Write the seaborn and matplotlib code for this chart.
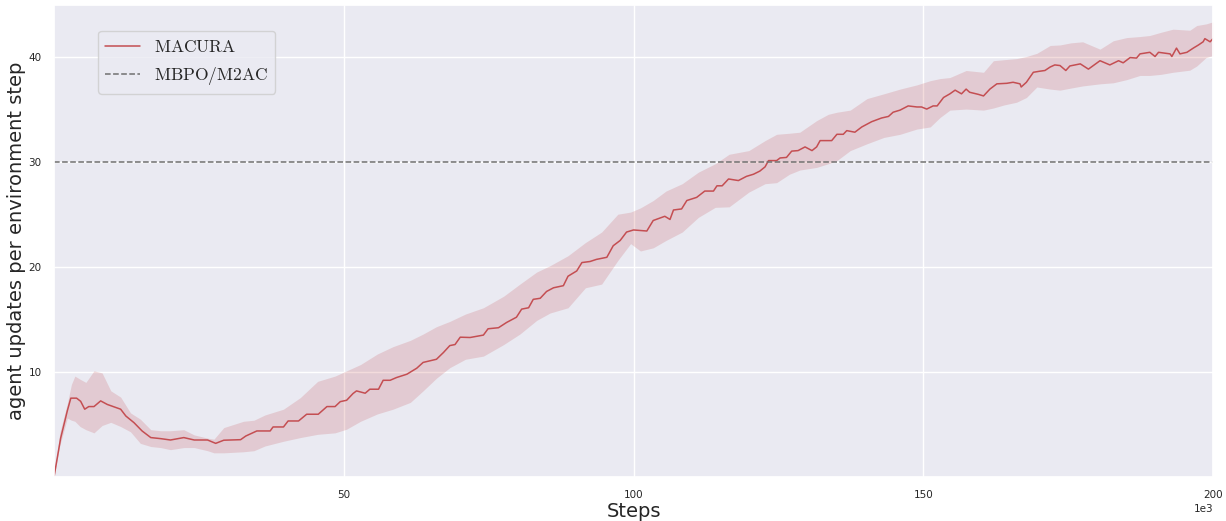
import numpy as np
import pandas as pd
import matplotlib
matplotlib.use("Agg")
import matplotlib.pyplot as plt
import seaborn as sns
from matplotlib.ticker import ScalarFormatter

# mean curve (steps in thousands, updates per env step)
steps_k = [0, 1.15, 2.3, 2.9, 3.9, 4.6, 5.3, 6.0, 6.9, 8.05, 9.2, 10.35, 11.5, 12.4, 13.8,
           15.2, 16.7, 18.4, 20.1, 22.4, 24.2, 26.5, 27.9, 29.3, 32.2, 33.1, 35.0, 37.3,
           37.8, 39.6, 40.4, 42.2, 43.6, 45.6, 47.1, 48.5, 49.4, 50.5, 51.6, 52.2, 53.7,
           54.5, 56.0, 56.8, 58.0, 59.1, 60.9, 62.6, 63.7, 66.0, 67.2, 68.3, 69.2, 70.1,
           71.8, 74.1, 74.9, 76.7, 78.1, 79.8, 80.7, 81.9, 82.7, 83.9, 85.0, 86.2, 87.9,
           88.7, 90.2, 91.1, 92.5, 93.6, 95.4, 96.5, 97.7, 98.8, 100.0, 102.3, 103.4,
           105.4, 106.3, 106.9, 108.3, 109.2, 110.9, 112.3, 113.8, 114.4, 115.3, 116.4,
           118.1, 119.5, 120.7, 121.8, 122.7, 123.3, 124.7, 125.3, 126.4, 127.3, 128.4,
           129.6, 130.8, 131.6, 132.2, 134.2, 135.1, 136.2, 136.8, 138.2, 139.4, 141.1,
           142.8, 144.0, 144.8, 146.0, 147.4, 148.9, 149.7, 150.6, 151.7, 152.4, 153.5,
           154.6, 155.5, 156.6, 157.4, 158.0, 159.5, 160.4, 161.5, 162.7, 164.4, 165.5,
           166.7, 166.9, 167.8, 169.0, 170.1, 171.0, 171.9, 172.7, 173.6, 174.6, 175.3,
           177.1, 178.5, 180.5, 182.2, 183.7, 184.5, 185.7, 186.8, 187.4, 189.1, 190.0,
           190.6, 192.6, 192.9, 193.7, 194.3, 195.5, 196.6, 197.5, 198.3, 198.6, 199.5, 200]
macura = [0, 3.7, 6.3, 7.5, 7.5, 7.2, 6.45, 6.7, 6.7, 7.24, 6.9, 6.67, 6.45, 5.8, 5.17,
          4.38, 3.75, 3.65, 3.52, 3.75, 3.52, 3.52, 3.2, 3.5, 3.55, 3.9, 4.38, 4.38,
          4.76, 4.76, 5.33, 5.33, 5.97, 5.97, 6.7, 6.7, 7.17, 7.3, 7.94, 8.19, 7.97,
          8.35, 8.35, 9.2, 9.2, 9.46, 9.78, 10.35, 10.9, 11.2, 11.84, 12.5, 12.6, 13.3,
          13.27, 13.5, 14.1, 14.2, 14.7, 15.2, 15.97, 16.1, 16.9, 17.0, 17.65, 18.0, 18.2,
          19.1, 19.6, 20.4, 20.5, 20.7, 20.9, 22.0, 22.5, 23.3, 23.5, 23.4, 24.4,
          24.8, 24.5, 25.4, 25.5, 26.3, 26.6, 27.2, 27.2, 27.7, 27.7, 28.35,
          28.2, 28.6, 28.8, 29.1, 29.5, 30.1, 30.1, 30.35, 30.4, 31.0, 31.05,
          31.4, 31.05, 31.4, 32.0, 32.0, 32.6, 32.6, 32.95, 32.8, 33.3, 33.8,
          34.15, 34.3, 34.7, 34.9, 35.3, 35.2, 35.2, 35.0, 35.3, 35.3, 36.1,
          36.45, 36.8, 36.45, 36.9, 36.6, 36.4, 36.25, 36.9, 37.4, 37.45, 37.55,
          37.4, 37.1, 37.55, 38.5, 38.6, 38.67, 39.0, 39.2, 39.14, 38.67, 39.1,
          39.3, 38.8, 39.6, 39.2, 39.6, 39.4, 39.9, 39.85, 40.25, 40.4, 40.0,
          40.4, 40.25, 40.0, 40.8, 40.25, 40.4, 40.8, 41.1, 41.4, 41.7, 41.4, 41.7]

# spread band around the mean
band_k = [0, 1, 2.3, 3, 3.6, 4.5, 5.5, 6.9, 8.3, 9.8, 11.5, 13.2, 14.9, 16.7, 18.4, 20.1,
          22.4, 24.2, 26.5, 27.6, 29.3, 31, 32.7, 34.5, 36.4, 39.6, 42.5, 45.5, 48.5,
          50.5, 52.9, 55.8, 58.5, 61.5, 63.7, 66, 68.3, 71, 74.1, 77.6, 80.4, 83.3, 85.6,
          88.7, 91.7, 94.5, 97.3, 99.5, 101.2, 103.4, 105.6, 108.4, 111.2, 114.1, 116.5,
          119.9, 122.7, 124.7, 126.9, 128.7, 131.6, 133.6, 135.1, 137.4, 140.3, 143.2,
          146, 148.9, 151.2, 152.9, 154.6, 157.4, 160.4, 162.1, 164, 166.1, 167.8, 169.6,
          171.9, 173.6, 175.5, 177.5, 180.5, 182.8, 185.1, 187.4, 189.1, 191, 193.1, 196,
          197.2, 198.8, 200]
band_lo = [0, 3.0, 5.6, 5.4, 5.3, 4.8, 4.5, 4.2, 4.9, 5.2, 4.8, 4.3, 3.2, 2.9, 2.8, 2.6,
           2.8, 2.8, 2.5, 2.3, 2.3, 2.35, 2.4, 2.5, 2.95, 3.4, 3.75, 4.06, 4.2,
           4.55, 5.3, 6.0, 6.45, 7.1, 8.2, 9.4, 10.4, 11.2, 11.5, 12.6, 13.6, 14.9, 15.6,
           16.1, 18.0, 18.35, 20.6, 22.2, 21.5, 21.8, 22.5, 23.3, 24.7, 25.65, 25.7,
           27.1, 27.9, 28.0, 28.8, 29.2, 29.45, 29.8, 30.1, 31.05, 31.7, 32.3,
           32.6, 33.1, 33.3, 34.2, 34.9, 35.0, 34.9, 35.1, 35.4, 35.65, 36.1, 37.1,
           36.9, 36.8, 37.0, 37.2, 37.4, 37.5, 37.8, 38.2, 38.2, 38.3, 38.5, 38.7,
           39.1, 39.9, 40.1]
band_hi = [0, 4.2, 7.0, 8.8, 9.6, 9.3, 9.0, 10.1, 9.9, 8.2, 7.6, 6.1, 5.5, 4.5, 4.4, 4.4,
           4.5, 4.0, 3.7, 3.6, 4.7, 5.0, 5.3, 5.4, 5.9, 6.45, 7.55, 9.1, 9.6,
           10.1, 10.7, 11.7, 12.4, 13.0, 13.6, 14.3, 14.8, 15.5, 16.1, 17.2, 18.35, 19.5, 20.1,
           21.05, 22.3, 23.3, 25.0, 25.2, 25.6, 26.3, 27.2, 27.9, 29.0, 29.8, 30.7,
           31.05, 32.0, 32.6, 32.7, 32.8, 33.9, 34.5, 34.7, 34.9, 36.0, 36.45,
           36.9, 37.3, 37.7, 37.9, 38.0, 38.67, 38.5, 39.6, 39.7, 39.8, 40.0, 40.3,
           41.05, 41.1, 41.3, 41.4, 40.7, 41.5, 41.8, 41.9, 42.0, 42.3, 42.6, 42.5,
           42.95, 43.1, 43.3]

mbpo_level = 30

df = pd.DataFrame({"Steps": np.array(steps_k) * 1000, "updates": macura})

sns.set_theme(style="darkgrid")
plt.rcParams["mathtext.fontset"] = "cm"

fig = plt.figure(figsize=(12.26, 5.21), dpi=100)
ax = fig.add_axes([54 / 1226, 1 - 477 / 521, 1159 / 1226, 472 / 521])

red = "#c44e52"
ax.fill_between(np.array(band_k) * 1000, band_lo, band_hi, color=red, alpha=0.2,
                linewidth=0)
sns.lineplot(data=df, x="Steps", y="updates", color=red, linewidth=1.1,
             label=r"$\mathrm{MACURA}$", ax=ax)
ax.axhline(mbpo_level, color="#707070", linestyle="--", linewidth=1.1,
           label=r"$\mathrm{MBPO/M2AC}$")

ax.set_xlim(0, 200000)
ax.set_ylim(0, 44.9)
ax.set_xticks([50000, 100000, 150000, 200000])
ax.set_yticks([10, 20, 30, 40])
fmt = ScalarFormatter()
fmt.set_powerlimits((3, 3))
ax.xaxis.set_major_formatter(fmt)
ax.tick_params(labelsize=7.5, pad=3)
ax.xaxis.get_offset_text().set_fontsize(7.5)

ax.set_xlabel("Steps", fontsize=14, labelpad=2)
ax.set_ylabel("agent updates per environment step", fontsize=14, labelpad=2)

ax.legend(loc="upper left", bbox_to_anchor=(0.038, 0.945), borderaxespad=0,
          fontsize=12.6, handlelength=2.0)

fig.savefig("out.png", dpi=100)
